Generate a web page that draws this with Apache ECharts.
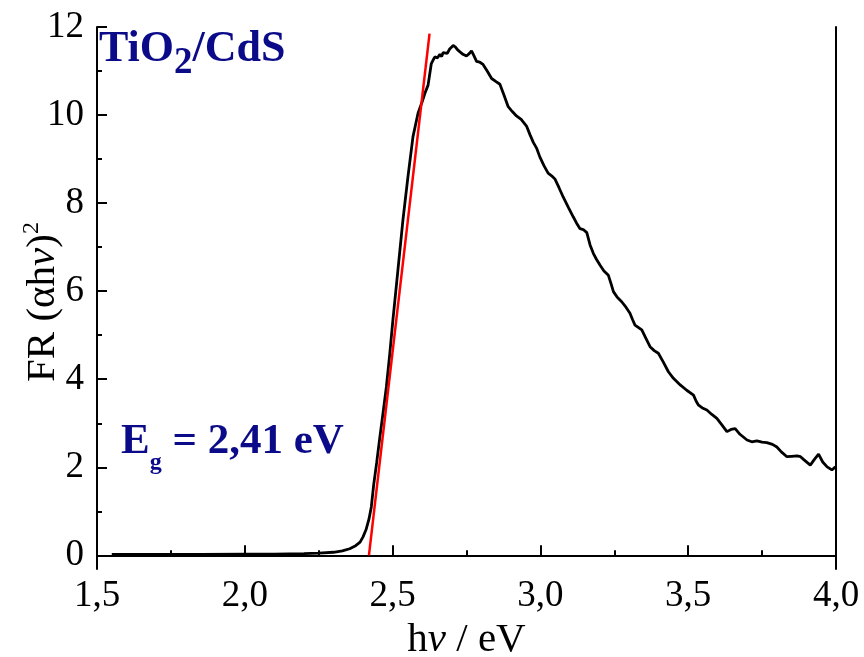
<!DOCTYPE html>
<html>
<head>
<meta charset="utf-8">
<script src="https://cdn.jsdelivr.net/npm/echarts@6/dist/echarts.min.js"></script>
<style>
  html, body { margin: 0; padding: 0; background: #fff; }
  #chart { width: 864px; height: 657px; }
</style>
</head>
<body>
<div id="chart"></div>
<script>
// measured spectrum, hv (eV) and FR (alpha*hv)^2
var hv = [1.55, 1.70, 1.85, 2.00, 2.10, 2.20, 2.25, 2.30, 2.33, 2.355, 2.375, 2.39, 2.40, 2.41, 2.42, 2.428, 2.436, 2.446, 2.457, 2.468,
  2.479, 2.490, 2.501, 2.518, 2.535, 2.552, 2.569, 2.586, 2.600, 2.609, 2.620, 2.631, 2.637, 2.643, 2.652, 2.660, 2.666, 2.671, 2.677, 2.685,
  2.693, 2.705, 2.712, 2.720, 2.727, 2.738, 2.750, 2.760, 2.767, 2.775, 2.784, 2.795, 2.806, 2.820, 2.835, 2.850, 2.863, 2.877, 2.891, 2.905,
  2.919, 2.935, 2.953, 2.965, 2.976, 2.987, 2.998, 3.012, 3.026, 3.038, 3.049, 3.063, 3.077, 3.095, 3.111, 3.122, 3.134, 3.145, 3.157, 3.168,
  3.179, 3.190, 3.202, 3.215, 3.230, 3.240, 3.247, 3.260, 3.275, 3.290, 3.303, 3.312, 3.320, 3.343, 3.357, 3.371, 3.385, 3.399, 3.415, 3.433,
  3.450, 3.473, 3.495, 3.518, 3.527, 3.535, 3.550, 3.563, 3.580, 3.597, 3.612, 3.631, 3.645, 3.659, 3.675, 3.699, 3.715, 3.732, 3.750, 3.766,
  3.785, 3.800, 3.815, 3.834, 3.850, 3.868, 3.880, 3.890, 3.913, 3.927, 3.941, 3.955, 3.970, 3.986, 3.998]
var fr = [0.02, 0.02, 0.02, 0.03, 0.03, 0.04, 0.05, 0.07, 0.10, 0.15, 0.22, 0.30, 0.42, 0.58, 0.82, 1.10, 1.60, 2.10, 2.69, 3.25,
  3.83, 4.55, 5.34, 6.48, 7.62, 8.60, 9.51, 10.04, 10.30, 10.49, 10.68, 11.17, 11.25, 11.32, 11.30, 11.38, 11.33, 11.42, 11.44, 11.40,
  11.50, 11.58, 11.55, 11.48, 11.44, 11.38, 11.34, 11.40, 11.46, 11.35, 11.22, 11.20, 11.15, 11.00, 10.83, 10.76, 10.70, 10.45, 10.19, 10.08,
  9.98, 9.90, 9.75, 9.55, 9.38, 9.25, 9.05, 8.85, 8.68, 8.62, 8.55, 8.35, 8.14, 7.90, 7.69, 7.55, 7.42, 7.40, 7.33, 7.05,
  6.86, 6.72, 6.59, 6.46, 6.36, 6.15, 5.99, 5.86, 5.76, 5.63, 5.50, 5.35, 5.23, 5.12, 4.93, 4.74, 4.65, 4.59, 4.40, 4.17,
  4.02, 3.87, 3.75, 3.64, 3.50, 3.41, 3.34, 3.30, 3.20, 3.11, 2.98, 2.81, 2.86, 2.88, 2.75, 2.62, 2.58, 2.60, 2.57, 2.56,
  2.52, 2.46, 2.35, 2.24, 2.25, 2.26, 2.24, 2.18, 2.05, 2.18, 2.30, 2.12, 2.01, 1.94, 2.01]

// linear fit of the absorption edge
var fitX = [2.42, 2.625]
var fitY = [0.0, 11.85]

var yMajor = [0, 2, 4, 6, 8, 10, 12]
var yMinor = [1, 3, 5, 7, 9, 11]

var serif = 'Liberation Serif'
var navy = '#0b0b8a'

var chart = echarts.init(document.getElementById('chart'))

function pairs(xs, ys) {
  return xs.map(function (x, i) { return [x, ys[i]] })
}

chart.setOption({
  animation: false,
  grid: { left: 97, right: 28, top: 27, bottom: 88, outerBoundsMode: 'none' },
  xAxis: [
    {
      type: 'value',
      min: 1.5,
      max: 4.0,
      interval: 0.5,
      name: 'h{i|ν} / eV',
      nameLocation: 'middle',
      nameGap: 51,
      nameMoveOverlap: false,
      nameTextStyle: {
        fontFamily: serif, fontSize: 41, color: '#000',
        rich: { i: { fontFamily: serif, fontSize: 41, fontStyle: 'italic', color: '#000' } }
      },
      axisLine: { lineStyle: { color: '#000', width: 2 } },
      axisTick: { inside: true, length: 10, lineStyle: { color: '#000', width: 2 } },
      minorTick: { show: true, splitNumber: 2, length: 5, lineStyle: { color: '#000', width: 2 } },
      axisLabel: {
        margin: 9,
        fontFamily: serif,
        fontSize: 37,
        color: '#000',
        formatter: function (v) { return v.toFixed(1).replace('.', ',') }
      },
      splitLine: { show: false }
    },
    {
      type: 'value',
      position: 'top',
      min: 1.5,
      max: 4.0,
      axisLine: { lineStyle: { color: '#000', width: 2 } },
      axisTick: { show: false },
      axisLabel: { show: false },
      splitLine: { show: false }
    }
  ],
  yAxis: [
    {
      type: 'value',
      min: -0.31,
      max: 12,
      name: 'FR (αh{i|ν}){sup|2}',
      nameLocation: 'middle',
      nameGap: 31,
      nameMoveOverlap: false,
      nameTextStyle: {
        fontFamily: serif, fontSize: 41, color: '#000', padding: [0, 8, 0, 0],
        rich: {
          i: { fontFamily: serif, fontSize: 41, fontStyle: 'italic', color: '#000' },
          sup: { fontFamily: serif, fontSize: 24, color: '#000', padding: [0, 0, 22, 0] }
        }
      },
      axisLine: { lineStyle: { color: '#000', width: 2 } },
      axisTick: { inside: true, length: 10, customValues: yMajor, lineStyle: { color: '#000', width: 2 } },
      axisLabel: {
        margin: 13,
        customValues: yMajor,
        fontFamily: serif,
        fontSize: 37,
        color: '#000'
      },
      splitLine: { show: false }
    },
    {
      type: 'value',
      min: -0.31,
      max: 12,
      position: 'left',
      axisLine: { show: false },
      axisTick: { inside: true, length: 5, customValues: yMinor, lineStyle: { color: '#000', width: 2 } },
      axisLabel: { show: false },
      splitLine: { show: false }
    },
    {
      type: 'value',
      min: -0.31,
      max: 12,
      position: 'right',
      axisLine: { lineStyle: { color: '#000', width: 2 } },
      axisTick: { show: false },
      axisLabel: { show: false },
      splitLine: { show: false }
    }
  ],
  graphic: [
    {
      type: 'text',
      left: 99,
      top: 28,
      style: {
        text: '{m|TiO}{s|2}{m|/CdS}',
        rich: {
          m: { fontFamily: serif, fontSize: 44, fontWeight: 'bold', fill: navy, verticalAlign: 'bottom', padding: [0, 0, 10, 0] },
          s: { fontFamily: serif, fontSize: 37, fontWeight: 'bold', fill: navy, verticalAlign: 'bottom' }
        }
      }
    },
    {
      type: 'text',
      left: 121,
      top: 420,
      style: {
        text: '{m|E}{s|g}{m| = 2,41 eV}',
        rich: {
          m: { fontFamily: serif, fontSize: 43, fontWeight: 'bold', fill: navy, verticalAlign: 'bottom', padding: [0, 0, 12, 0] },
          s: { fontFamily: serif, fontSize: 24, fontWeight: 'bold', fill: navy, verticalAlign: 'bottom' }
        }
      }
    }
  ],
  series: [
    {
      name: 'TiO2/CdS',
      type: 'line',
      data: pairs(hv, fr),
      showSymbol: false,
      lineStyle: { color: '#000', width: 2.8 },
      z: 2
    },
    {
      name: 'fit',
      type: 'line',
      data: pairs(fitX, fitY),
      showSymbol: false,
      lineStyle: { color: '#ff0000', width: 2.5 },
      z: 3
    }
  ]
})
</script>
</body>
</html>
